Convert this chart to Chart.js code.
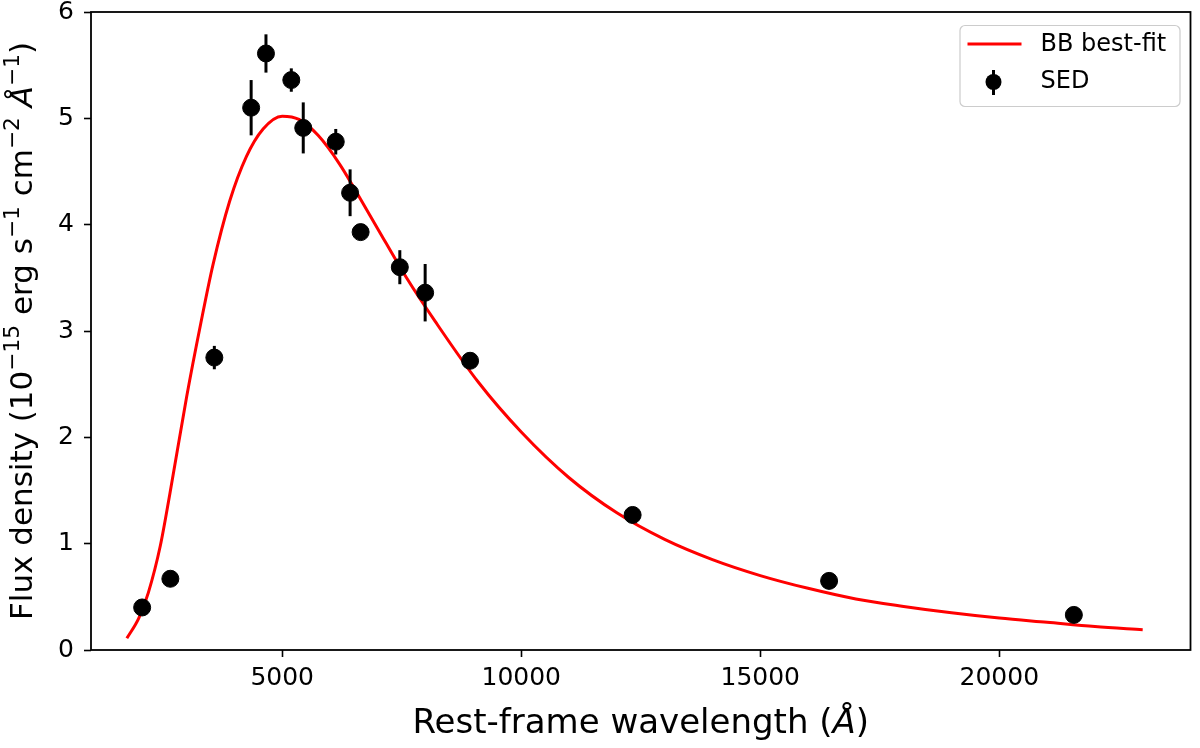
<!DOCTYPE html>
<html>
<head>
<meta charset="utf-8">
<script src="https://cdn.jsdelivr.net/npm/chart.js@4.4.1/dist/chart.umd.min.js"></script>
<style>
  html, body { margin: 0; padding: 0; background: #fff; }
  #wrap { width: 1200px; height: 748px; }
</style>
</head>
<body>
<div id="wrap"><canvas id="sedChart" width="1200" height="748"></canvas></div>
<script>
// SED photometry (rest-frame wavelength in Angstrom, flux in 1e-15 erg/s/cm2/A)
const sedWavelength = [2070, 2660, 3580, 4350, 4660, 5190, 5440, 6120, 6420, 6640, 7460, 7990, 8930, 12330, 16440, 21560];
const sedFlux = [0.40, 0.67, 2.75, 5.10, 5.61, 5.36, 4.91, 4.78, 4.30, 3.93, 3.60, 3.36, 2.72, 1.27, 0.65, 0.33];
const sedError = [0.02, 0.02, 0.11, 0.26, 0.18, 0.11, 0.24, 0.12, 0.22, 0.03, 0.16, 0.27, 0.03, 0.02, 0.02, 0.02];

// blackbody best-fit curve
const fitWavelength = [1750, 2000, 2200, 2450, 2650, 3000, 3300, 3550, 3900, 4250, 4600, 5000, 5350, 5750, 6200, 6600, 7000, 7600, 8200, 9100, 10000, 11000, 12000, 13000, 14000, 15000, 16000, 17000, 18000, 19000, 20000, 21000, 22000, 23000];
const fitFlux = [0.11, 0.30, 0.54, 0.98, 1.47, 2.38, 3.08, 3.62, 4.22, 4.64, 4.90, 5.02, 4.99, 4.84, 4.57, 4.27, 3.96, 3.50, 3.09, 2.52, 2.05, 1.62, 1.29, 1.04, 0.85, 0.70, 0.58, 0.48, 0.41, 0.35, 0.30, 0.26, 0.22, 0.19];

const xTicks = [5000, 10000, 15000, 20000];
const yTicks = [0, 1, 2, 3, 4, 5, 6];

// axis titles, split so the exponents can be raised like matplotlib mathtext
const xTitle = [
  { t: "Rest-frame wavelength (" },
  { t: "Å", it: true },
  { t: ")" },
];
const yTitle = [
  { t: "Flux density (10" },
  { t: "−15", sup: true },
  { t: " erg s" },
  { t: "−1", sup: true },
  { t: " cm" },
  { t: "−2", sup: true },
  { t: " " },
  { t: "Å", it: true },
  { t: "−1", sup: true },
  { t: ")" },
];

const FONT = "'DejaVu Sans', sans-serif";

// draws a run of text pieces centred on (cx, baseline), optionally rotated
function drawRich(ctx, parts, size, cx, base, angle) {
  const fontOf = (p) => (p.it ? "italic " : "") + (p.sup ? size * 0.7 : size) + "px " + FONT;
  let total = 0;
  parts.forEach((p) => {
    ctx.font = fontOf(p);
    p.w = ctx.measureText(p.t).width;
    total += p.w;
  });
  ctx.save();
  ctx.translate(cx, base);
  ctx.rotate(angle);
  ctx.fillStyle = "#000";
  ctx.textBaseline = "alphabetic";
  ctx.textAlign = "left";
  let pos = -total / 2;
  parts.forEach((p) => {
    ctx.font = fontOf(p);
    ctx.fillText(p.t, pos, p.sup ? -size * 0.42 : 0);
    pos += p.w;
  });
  ctx.restore();
}

// vertical error bars, drawn just under the SED markers
const errorBars = {
  id: "errorBars",
  beforeDatasetDraw(chart, args) {
    if (args.index !== 0) return;
    const { ctx, scales: { x, y } } = chart;
    ctx.save();
    ctx.strokeStyle = "#000";
    ctx.lineWidth = 3;
    sedWavelength.forEach((w, i) => {
      const px = x.getPixelForValue(w);
      ctx.beginPath();
      ctx.moveTo(px, y.getPixelForValue(sedFlux[i] - sedError[i]));
      ctx.lineTo(px, y.getPixelForValue(sedFlux[i] + sedError[i]));
      ctx.stroke();
    });
    ctx.restore();
  },
};

// box around the plot, axis titles and a matplotlib-ish legend
const frameAndLegend = {
  id: "frameAndLegend",
  afterDraw(chart) {
    const { ctx, chartArea: a } = chart;
    ctx.save();
    ctx.strokeStyle = "#000";
    ctx.lineWidth = 1.8;
    ctx.strokeRect(a.left, a.top, a.right - a.left, a.bottom - a.top);

    drawRich(ctx, xTitle, 34, (a.left + a.right) / 2, 733, 0);
    drawRich(ctx, yTitle, 31, 32, (a.top + a.bottom) / 2, -Math.PI / 2);

    // legend box
    const lx = a.right - 231, ly = a.top + 13, lw = 220, lh = 81;
    ctx.beginPath();
    ctx.roundRect(lx + 0.5, ly + 0.5, lw, lh, 5);
    ctx.fillStyle = "rgba(255,255,255,0.8)";
    ctx.fill();
    ctx.strokeStyle = "#cccccc";
    ctx.lineWidth = 1.2;
    ctx.stroke();

    ctx.strokeStyle = "#ff0000";
    ctx.lineWidth = 3;
    ctx.beginPath();
    ctx.moveTo(lx + 8, ly + 19);
    ctx.lineTo(lx + 62, ly + 19);
    ctx.stroke();

    ctx.strokeStyle = "#000";
    ctx.beginPath();
    ctx.moveTo(lx + 34, ly + 45);
    ctx.lineTo(lx + 34, ly + 70);
    ctx.stroke();
    ctx.fillStyle = "#000";
    ctx.beginPath();
    ctx.arc(lx + 34, ly + 57, 8, 0, Math.PI * 2);
    ctx.fill();

    ctx.font = "24px " + FONT;
    ctx.textBaseline = "middle";
    ctx.fillStyle = "#000";
    ctx.fillText("BB best-fit", lx + 81, ly + 20);
    ctx.fillText("SED", lx + 81, ly + 57);
    ctx.restore();
  },
};

const tickGrid = {
  display: true,
  drawOnChartArea: false,
  drawTicks: true,
  tickLength: 7,
  tickWidth: 1.6,
  tickColor: "#000",
};

new Chart(document.getElementById("sedChart"), {
  type: "scatter",
  data: {
    datasets: [
      {
        label: "SED",
        data: sedWavelength.map((w, i) => ({ x: w, y: sedFlux[i] })),
        backgroundColor: "#000",
        borderColor: "#000",
        pointRadius: 8.5,
        pointHoverRadius: 8.5,
        showLine: false,
      },
      {
        label: "BB best-fit",
        data: fitWavelength.map((w, i) => ({ x: w, y: fitFlux[i] })),
        borderColor: "#ff0000",
        borderWidth: 3,
        pointRadius: 0,
        showLine: true,
        cubicInterpolationMode: "monotone",
      },
    ],
  },
  options: {
    responsive: false,
    animation: false,
    devicePixelRatio: 1,
    layout: { padding: { top: 12, right: 4, left: 0, bottom: 0 } },
    plugins: {
      legend: { display: false },
      tooltip: { enabled: false },
    },
    scales: {
      x: {
        type: "linear",
        min: 1000,
        max: 24000,
        afterBuildTicks: (axis) => {
          axis.ticks = xTicks.map((v) => ({ value: v }));
        },
        afterFit: (scale) => {
          scale.height = 98;
          scale.paddingLeft = 0;
          scale.paddingRight = 0;
        },
        grid: tickGrid,
        border: { display: false },
        ticks: {
          color: "#000",
          padding: 6,
          maxRotation: 0,
          font: { family: FONT, size: 25 },
          callback: (v) => String(v),
        },
      },
      y: {
        type: "linear",
        min: 0,
        max: 6,
        afterBuildTicks: (axis) => {
          axis.ticks = yTicks.map((v) => ({ value: v }));
        },
        afterFit: (scale) => {
          scale.width = 91;
          scale.paddingTop = 0;
          scale.paddingBottom = 0;
        },
        grid: tickGrid,
        border: { display: false },
        ticks: {
          color: "#000",
          padding: 10,
          font: { family: FONT, size: 25 },
        },
      },
    },
  },
  plugins: [errorBars, frameAndLegend],
});
</script>
</body>
</html>
